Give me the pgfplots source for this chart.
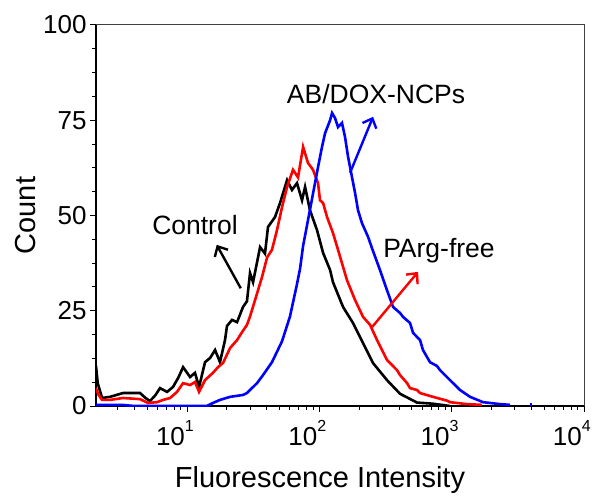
\documentclass[border=0pt]{standalone}
\usepackage{fontspec}
\setmainfont{Liberation Sans}
\usepackage{pgfplots}
\pgfplotsset{compat=1.18}
\usetikzlibrary{arrows.meta}

% decade labels: "10" ends at the tick, exponent sits to its right
\newcommand{\dec}[1]{10\raisebox{14bp}{\fontsize{16bp}{16bp}\selectfont #1}}
\newcommand{\fs}[1]{\fontsize{#1}{#1}\selectfont}

\begin{document}
\begin{tikzpicture}
\useasboundingbox (-96bp,-94bp) rectangle (501bp,406bp);
\begin{axis}[
  scale only axis, width=488bp, height=381bp,
  xmin=0.312, xmax=4.0, ymin=0, ymax=100,
  axis x line*=bottom, axis y line*=left,
  axis line style={-, line width=2.2bp, black},
  xtick={1,2,3,4},
  xticklabels={\dec{1},\dec{2},\dec{3},\dec{4}},
  minor xtick={0.477,0.602,0.699,0.778,0.845,0.903,0.954,
    1.301,1.477,1.602,1.699,1.778,1.845,1.903,1.954,
    2.301,2.477,2.602,2.699,2.778,2.845,2.903,2.954,
    3.301,3.477,3.602,3.699,3.778,3.845,3.903,3.954},
  ytick={0,25,50,75,100}, minor y tick num=3,
  tick align=outside,
  major tick length=6bp, minor tick length=4bp,
  every tick/.style={black, line width=1bp},
  tick label style={font=\fs{26bp}},
  /pgf/number format/assume math mode=true,
  xticklabel style={anchor=north east, inner sep=0pt, xshift=7bp, yshift=-8bp},
  label style={font=\fs{29bp}},
  xlabel={Fluorescence Intensity}, ylabel={Count},
  xlabel style={xshift=-20bp, yshift=-17bp},
  clip mode=individual,
  after end axis/.code={
    \draw[black!75, line width=1bp] (rel axis cs:0,1) -- (rel axis cs:1,1) -- (rel axis cs:1,0);
  },
]
% x values are log10 of intensity
% Control
\addplot[black, line width=2.6bp] coordinates {
(0.312,10.5)(0.325,6)(0.358,2.1)(0.418,2.4)(0.516,3.4)(0.645,3.4)(0.690,2.0)(0.720,1.3)
(0.760,2.8)(0.796,4.7)(0.849,3.7)(0.894,5.0)(0.935,7.5)(0.970,10.2)(1.023,7.6)(1.060,8.7)
(1.091,5.0)(1.136,11.5)(1.174,12.6)(1.212,14.7)(1.249,11.5)(1.287,17.3)(1.302,21.0)(1.340,22.6)
(1.378,22.0)(1.423,26.0)(1.453,27.5)(1.476,34.9)(1.499,32.5)(1.552,41.7)(1.589,40.0)(1.612,47.0)
(1.665,49.6)(1.703,53.3)(1.756,59.3)(1.793,56.7)(1.831,58.5)(1.869,54.0)(1.892,57.5)(1.929,51.4)
(1.982,46.2)(2.028,40.2)(2.081,35.7)(2.103,32.5)(2.179,26.0)(2.254,21.8)(2.330,16.5)(2.405,11.3)
(2.511,6.8)(2.610,3.2)(2.738,0.9)(2.859,0.6)(2.987,0)
};
% PArg-free
\addplot[red, line width=2.6bp] coordinates {
(0.312,4.7)(0.330,3.0)(0.358,1.6)(0.418,1.6)(0.516,2.1)(0.645,1.8)(0.705,0.8)(0.773,1.0)
(0.819,1.6)(0.872,2.1)(0.924,3.7)(0.970,6.0)(1.023,5.5)(1.060,6.3)(1.091,3.7)(1.136,6.8)
(1.196,8.7)(1.234,10.2)(1.272,11.3)(1.325,15.2)(1.378,17.3)(1.416,19.4)(1.453,21.3)(1.476,23.5)
(1.514,27.8)(1.567,33.9)(1.605,39.0)(1.642,41.0)(1.680,46.2)(1.718,52.2)(1.756,57.5)(1.801,62.0)
(1.839,60.0)(1.877,68.0)(1.914,63.8)(1.952,62.0)(1.990,58.5)(2.005,54.0)(2.028,53.3)(2.058,49.6)
(2.103,45.4)(2.141,41.0)(2.209,33.0)(2.270,27.8)(2.330,23.4)(2.383,21.3)(2.436,17.3)(2.511,12.1)
(2.587,9.4)(2.610,8.1)(2.663,6.0)(2.685,4.7)(2.738,4.2)(2.761,3.4)(2.859,2.4)(2.965,1.4)
(2.987,1.0)(3.116,0.5)(3.229,0.3)
};
% AB/DOX-NCPs
\addplot[blue, line width=2.6bp] coordinates {
(0.312,0.3)(0.509,0.3)(0.600,0)(1.150,0)(1.196,0.8)(1.249,1.6)(1.325,2.4)(1.423,2.9)
(1.453,3.4)(1.476,4.2)(1.529,6.0)(1.574,8.1)(1.642,11.5)(1.718,17.0)(1.778,23.5)(1.831,32.0)
(1.854,36.0)(1.877,42.0)(1.929,51.5)(1.967,58.5)(1.990,62.7)(2.020,68.0)(2.043,71.6)(2.081,75.0)
(2.096,76.9)(2.118,75.6)(2.141,73.2)(2.171,74.3)(2.194,70.6)(2.217,65.4)(2.247,60.0)(2.270,55.9)
(2.292,51.4)(2.322,48.0)(2.368,44.4)(2.398,41.4)(2.458,35.7)(2.511,30.4)(2.557,26.0)(2.610,24.4)
(2.632,23.4)(2.685,21.8)(2.708,19.2)(2.761,17.3)(2.783,14.7)(2.836,11.5)(2.889,10.5)(2.912,9.4)
(2.987,6.8)(3.063,4.2)(3.139,2.4)(3.237,1.0)(3.365,0.5)(3.441,0.3)
};
\addplot[blue, line width=2.6bp] coordinates {(3.590,0.4)(3.610,0.4)};

% annotations
\node[anchor=base, font=\fs{26.5bp}] at (axis cs:1.060,44.9) {Control};
\draw[black, line width=2.4bp, -{Straight Barb[length=8bp,width=15bp]}]
  (axis cs:1.406,30.9) -- (axis cs:1.224,42.3);
\node[anchor=base, font=\fs{26.5bp}] at (axis cs:2.428,79.5) {AB/DOX-NCPs};
\draw[blue, line width=2.4bp, -{Straight Barb[length=8bp,width=15bp]}]
  (axis cs:2.232,61.2) -- (axis cs:2.406,75.9);
\node[anchor=base, font=\fs{26.5bp}] at (axis cs:2.904,39.1) {PArg-free};
\draw[red, line width=2.4bp, -{Straight Barb[length=8bp,width=15bp]}]
  (axis cs:2.398,20.7) -- (axis cs:2.746,35.2);
\end{axis}
\end{tikzpicture}
\end{document}
